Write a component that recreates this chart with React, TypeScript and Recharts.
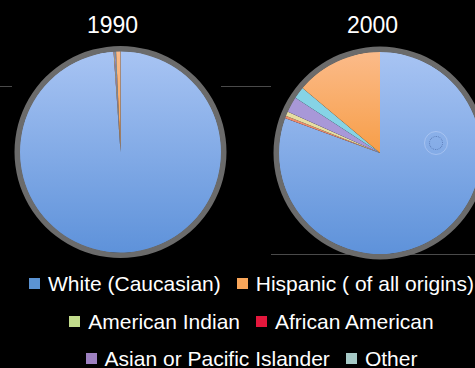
import { Cell, Pie, PieChart } from "recharts";

const categories = [
	"White (Caucasian)",
	"Hispanic ( of all origins)",
	"American Indian",
	"African American",
	"Asian or Pacific Islander",
	"Other",
];
const legendColors = ["#5b93d3", "#f9a65a", "#c2dc8c", "#e4173c", "#9d80c0", "#a6c9c6"];
const sliceFills = ["url(#gWhite)", "url(#gHisp)", "#e6dea2", "#ee8b6c", "#a898d8", "#86d3e6"];
const values1990 = [98.9, 0.7, 0.1, 0.05, 0.15, 0.1];
const values2000 = [80.6, 13.9, 0.7, 0.4, 2.5, 1.9];
// clockwise from the top, as the slices sit in the picture
const sliceOrder = [0, 3, 2, 4, 5, 1];
const years = ["1990", "2000"];
const legendRows = [
	[0, 1],
	[2, 3],
	[4, 5],
];

const toData = (values: number[]) =>
	sliceOrder.map((i) => ({ name: categories[i], value: values[i], fill: sliceFills[i] }));

const ring = [{ name: "ring", value: 1 }];
const font = "'Liberation Sans', Arial, Helvetica, sans-serif";

const App = () => {
	const d1990 = toData(values1990);
	const d2000 = toData(values2000);
	return (
		<div
			style={{
				position: "absolute",
				left: 0,
				top: 0,
				width: 475,
				height: 368,
				background: "#000",
				overflow: "hidden",
				fontFamily: font,
				color: "#fff",
			}}
		>
			{/* faint guide lines from the slide */}
			<div style={{ position: "absolute", left: 0, top: 86, width: 12, height: 1, background: "#4a4a4a" }} />
			<div style={{ position: "absolute", left: 221, top: 86, width: 50, height: 1, background: "#4a4a4a" }} />
			<div style={{ position: "absolute", left: 271, top: 254, width: 204, height: 1, background: "#4a4a4a" }} />

			<div style={{ position: "absolute", left: 0, top: 0 }}>
				<PieChart width={475} height={265}>
					<defs>
						<linearGradient id="gWhite" x1="0" y1="0" x2="0" y2="1">
							<stop offset="0%" stopColor="#a8c4f3" />
							<stop offset="100%" stopColor="#5e92da" />
						</linearGradient>
						<linearGradient id="gHisp" x1="0" y1="0" x2="0" y2="1">
							<stop offset="0%" stopColor="#fbbb8a" />
							<stop offset="100%" stopColor="#f79e48" />
						</linearGradient>
					</defs>
					<Pie
						data={d1990}
						dataKey="value"
						cx={115.5}
						cy={147}
						outerRadius={101}
						startAngle={90}
						endAngle={-270}
						stroke="none"
						isAnimationActive={false}
					>
						{d1990.map((d) => (
							<Cell key={d.name} fill={d.fill} />
						))}
					</Pie>
					<Pie
						data={ring}
						dataKey="value"
						cx={115.5}
						cy={147}
						innerRadius={100.5}
						outerRadius={106}
						fill="#6b6b6b"
						stroke="none"
						isAnimationActive={false}
					/>
					<Pie
						data={d2000}
						dataKey="value"
						cx={375}
						cy={148}
						outerRadius={101.5}
						startAngle={90}
						endAngle={-270}
						stroke="none"
						isAnimationActive={false}
					>
						{d2000.map((d) => (
							<Cell key={d.name} fill={d.fill} />
						))}
					</Pie>
					<Pie
						data={ring}
						dataKey="value"
						cx={375}
						cy={148}
						innerRadius={101}
						outerRadius={106.5}
						fill="#6b6b6b"
						stroke="none"
						isAnimationActive={false}
					/>
				</PieChart>
			</div>

			{/* small ring marker on the 2000 pie */}
			<div
				style={{
					position: "absolute",
					left: 424,
					top: 131,
					width: 22,
					height: 22,
					borderRadius: "50%",
					border: "1px solid rgba(220,230,255,0.35)",
				}}
			/>
			<div
				style={{
					position: "absolute",
					left: 429,
					top: 136,
					width: 12,
					height: 12,
					borderRadius: "50%",
					border: "1px dotted rgba(60,90,150,0.6)",
				}}
			/>

			{years.map((y, i) => (
				<div
					key={y}
					style={{
						position: "absolute",
						left: i === 0 ? 62.5 : 322.5,
						width: 100,
						top: 14,
						textAlign: "center",
						fontSize: 23,
						lineHeight: "23px",
					}}
				>
					{y}
				</div>
			))}

			{legendRows.map((row, r) => (
				<div
					key={r}
					style={{
						position: "absolute",
						left: 14,
						width: 475,
						top: [274.5, 312.5, 349.5][r],
						display: "flex",
						justifyContent: "center",
						alignItems: "center",
						gap: 16,
						whiteSpace: "nowrap",
						fontSize: 21,
						lineHeight: "17px",
					}}
				>
					{row.map((i) => (
						<div key={i} style={{ display: "flex", alignItems: "center" }}>
							<span
								style={{
									display: "inline-block",
									width: 11,
									height: 11,
									background: legendColors[i],
									marginRight: 8,
								}}
							/>
							<span>{categories[i]}</span>
						</div>
					))}
				</div>
			))}
		</div>
	);
};

export default App;
